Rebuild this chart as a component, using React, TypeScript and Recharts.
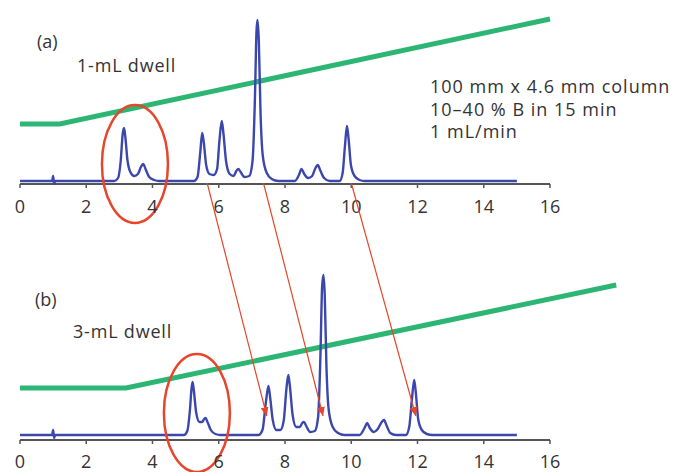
import React from "react";
import { LineChart, Line, XAxis, YAxis, ReferenceLine, ReferenceDot } from "recharts";

// blue chromatogram traces (minutes, detector signal)
const traceA = [
  { t: 0, v: 0 }, { t: 0.97, v: 0 }, { t: 1.0, v: 5 }, { t: 1.03, v: -3 }, { t: 1.06, v: 0 },
  { t: 2.85, v: 0 }, { t: 2.96, v: 3 }, { t: 3.04, v: 20 }, { t: 3.1, v: 47 }, { t: 3.14, v: 53 },
  { t: 3.18, v: 44 }, { t: 3.24, v: 22 }, { t: 3.33, v: 9 }, { t: 3.45, v: 5 }, { t: 3.56, v: 7 },
  { t: 3.65, v: 14 }, { t: 3.72, v: 17 }, { t: 3.79, v: 12 }, { t: 3.9, v: 4 }, { t: 4.05, v: 1 },
  { t: 4.2, v: 0 },
  { t: 5.25, v: 0 }, { t: 5.36, v: 4 }, { t: 5.44, v: 28 }, { t: 5.5, v: 48 }, { t: 5.55, v: 38 },
  { t: 5.62, v: 16 }, { t: 5.72, v: 7 }, { t: 5.85, v: 6 }, { t: 5.95, v: 12 }, { t: 6.02, v: 40 },
  { t: 6.09, v: 60 }, { t: 6.14, v: 48 }, { t: 6.22, v: 20 }, { t: 6.33, v: 7 }, { t: 6.45, v: 5 },
  { t: 6.53, v: 10 }, { t: 6.59, v: 12 }, { t: 6.66, v: 9 }, { t: 6.78, v: 4 }, { t: 6.92, v: 5 },
  { t: 7.02, v: 20 }, { t: 7.09, v: 80 }, { t: 7.14, v: 150 }, { t: 7.17, v: 161 }, { t: 7.21, v: 140 },
  { t: 7.26, v: 70 }, { t: 7.33, v: 25 }, { t: 7.45, v: 8 }, { t: 7.6, v: 2 }, { t: 7.8, v: 0 },
  { t: 8.3, v: 0 }, { t: 8.42, v: 6 }, { t: 8.5, v: 12 }, { t: 8.58, v: 7 }, { t: 8.7, v: 3 },
  { t: 8.82, v: 5 }, { t: 8.92, v: 13 }, { t: 8.99, v: 16 }, { t: 9.06, v: 11 }, { t: 9.18, v: 3 },
  { t: 9.35, v: 0 },
  { t: 9.65, v: 0 }, { t: 9.74, v: 8 }, { t: 9.81, v: 35 }, { t: 9.87, v: 55 }, { t: 9.92, v: 42 },
  { t: 9.99, v: 16 }, { t: 10.1, v: 5 }, { t: 10.25, v: 1 }, { t: 10.4, v: 0 },
  { t: 15, v: 0 },
];

const traceB = [
  { t: 0, v: 0 }, { t: 0.97, v: 0 }, { t: 1.0, v: 5 }, { t: 1.03, v: -3 }, { t: 1.06, v: 0 },
  { t: 4.95, v: 0 }, { t: 5.05, v: 4 }, { t: 5.13, v: 25 }, { t: 5.18, v: 47 }, { t: 5.21, v: 53 },
  { t: 5.25, v: 44 }, { t: 5.32, v: 22 }, { t: 5.42, v: 13 }, { t: 5.5, v: 13 }, { t: 5.56, v: 16 },
  { t: 5.6, v: 17 }, { t: 5.66, v: 13 }, { t: 5.76, v: 5 }, { t: 5.9, v: 1 }, { t: 6.05, v: 0 },
  { t: 7.2, v: 0 }, { t: 7.32, v: 5 }, { t: 7.42, v: 32 }, { t: 7.5, v: 49 }, { t: 7.55, v: 38 },
  { t: 7.63, v: 15 }, { t: 7.74, v: 5 }, { t: 7.86, v: 5 }, { t: 7.96, v: 14 }, { t: 8.04, v: 45 },
  { t: 8.1, v: 60 }, { t: 8.15, v: 48 }, { t: 8.23, v: 20 }, { t: 8.34, v: 8 }, { t: 8.45, v: 8 },
  { t: 8.52, v: 12 }, { t: 8.57, v: 13 }, { t: 8.64, v: 9 }, { t: 8.76, v: 3 }, { t: 8.9, v: 4 },
  { t: 9.0, v: 18 }, { t: 9.07, v: 80 }, { t: 9.12, v: 148 }, { t: 9.16, v: 160 }, { t: 9.2, v: 140 },
  { t: 9.25, v: 70 }, { t: 9.32, v: 25 }, { t: 9.44, v: 8 }, { t: 9.6, v: 2 }, { t: 9.8, v: 0 },
  { t: 10.25, v: 0 }, { t: 10.4, v: 7 }, { t: 10.48, v: 12 }, { t: 10.56, v: 7 }, { t: 10.68, v: 3 },
  { t: 10.8, v: 6 }, { t: 10.92, v: 13 }, { t: 10.99, v: 15 }, { t: 11.06, v: 10 }, { t: 11.18, v: 2 },
  { t: 11.35, v: 0 },
  { t: 11.65, v: 0 }, { t: 11.75, v: 8 }, { t: 11.83, v: 35 }, { t: 11.9, v: 55 }, { t: 11.95, v: 42 },
  { t: 12.02, v: 16 }, { t: 12.13, v: 5 }, { t: 12.28, v: 1 }, { t: 12.45, v: 0 },
  { t: 15, v: 0 },
];

// green gradient program (%B)
const gradA = [{ t: 0, b: 10 }, { t: 1.2, b: 10 }, { t: 16, b: 40 }];
const gradB = [{ t: 0, b: 10 }, { t: 3.2, b: 10 }, { t: 18, b: 40 }];

const xTicks = [0, 2, 4, 6, 8, 10, 12, 14, 16];

// peak shifts marked with arrows: retention in (a) -> retention in (b)
const shiftFrom = [5.65, 7.35, 10.0];
const shiftTo = [7.45, 9.15, 11.95];

const conditions = ["100 mm x 4.6 mm column", "10–40 % B in 15 min", "1 mL/min"];

const BLUE = "#3b47ad";
const GREEN = "#2db574";
const RED = "#e6462b";
const INK = "#333";
const FONT = "'Open Sans', sans-serif";

const W = 675;
const LEFT = 20;
const RIGHT = 58.75;
const UNIT = (W - LEFT - RIGHT) / 18;
const px = (t: number) => LEFT + t * UNIT;

const tickStyle = { fontSize: 18, fill: INK, fontFamily: FONT };

function Panel({
  trace,
  grad,
  height,
  margin,
  sigDomain,
  pbDomain,
  tickMargin,
  circle,
}: {
  trace: { t: number; v: number }[];
  grad: { t: number; b: number }[];
  height: number;
  margin: { top: number; right: number; bottom: number; left: number };
  sigDomain: [number, number];
  pbDomain: [number, number];
  tickMargin: number;
  circle: { t: number; v: number };
}) {
  return (
    <LineChart width={W} height={height} margin={margin}>
      <XAxis
        dataKey="t"
        type="number"
        domain={[0, 18]}
        ticks={xTicks}
        axisLine={false}
        tickLine={{ stroke: "#555", strokeWidth: 1.5 }}
        tickSize={4}
        tickMargin={tickMargin}
        tick={tickStyle}
        height={30}
      />
      <YAxis yAxisId="sig" hide domain={sigDomain} />
      <YAxis yAxisId="pb" hide domain={pbDomain} />
      <ReferenceLine
        yAxisId="sig"
        segment={[{ x: 0, y: sigDomain[0] }, { x: 16, y: sigDomain[0] }]}
        stroke="#555"
        strokeWidth={2}
      />
      <Line
        yAxisId="pb"
        data={grad}
        dataKey="b"
        stroke={GREEN}
        strokeWidth={5}
        dot={false}
        type="linear"
        isAnimationActive={false}
      />
      <Line
        yAxisId="sig"
        data={trace}
        dataKey="v"
        stroke={BLUE}
        strokeWidth={2.4}
        dot={false}
        type="monotone"
        isAnimationActive={false}
      />
      <ReferenceDot
        yAxisId="sig"
        x={circle.t}
        y={circle.v}
        r={1}
        shape={(p: any) => (
          <ellipse cx={p.cx} cy={p.cy} rx={33} ry={59} fill="none" stroke={RED} strokeWidth={2.5} />
        )}
      />
    </LineChart>
  );
}

export default function App() {
  // pixel rows of the two axes, used only to hang the arrows between the panels
  const axisA = 183;
  const tipB = 416;
  return (
    <div style={{ position: "absolute", left: 0, top: 0, width: W, height: 472, background: "#fff" }}>
      <div style={{ position: "absolute", left: 0, top: 0 }}>
        <Panel
          trace={traceA}
          grad={gradA}
          height={240}
          margin={{ top: 19, right: RIGHT, bottom: 26, left: LEFT }}
          sigDomain={[-3, 162]}
          pbDomain={[-7.143, 40]}
          tickMargin={12}
          circle={{ t: 3.47, v: 17 }}
        />
      </div>
      <div style={{ position: "absolute", left: 0, top: 240 }}>
        <Panel
          trace={traceB}
          grad={gradB}
          height={232}
          margin={{ top: 30, right: RIGHT, bottom: 2, left: LEFT }}
          sigDomain={[-5, 165]}
          pbDomain={[-5.146, 44.369]}
          tickMargin={11}
          circle={{ t: 5.34, v: 22 }}
        />
      </div>
      <svg
        width={W}
        height={472}
        style={{ position: "absolute", left: 0, top: 0, pointerEvents: "none" }}
      >
        <defs>
          <marker id="head" markerWidth={9} markerHeight={8} refX={9} refY={4} orient="auto" markerUnits="userSpaceOnUse">
            <path d="M0,0 L9,4 L0,8 z" fill={RED} />
          </marker>
        </defs>
        {shiftFrom.map((t, i) => (
          <line
            key={i}
            x1={px(t)}
            y1={axisA}
            x2={px(shiftTo[i])}
            y2={tipB}
            stroke={RED}
            strokeWidth={1.2}
            markerEnd="url(#head)"
          />
        ))}
        <g fontFamily={FONT} fill={INK} fontSize={18}>
          <text x={37} y={48}>(a)</text>
          <text x={77} y={72} letterSpacing={0.8}>1-mL dwell</text>
          {conditions.map((s, i) => (
            <text key={s} x={430} y={93 + i * 22.5} letterSpacing={1}>
              {s}
            </text>
          ))}
          <text x={35} y={306}>(b)</text>
          <text x={73} y={338} letterSpacing={0.8}>3-mL dwell</text>
        </g>
      </svg>
    </div>
  );
}
